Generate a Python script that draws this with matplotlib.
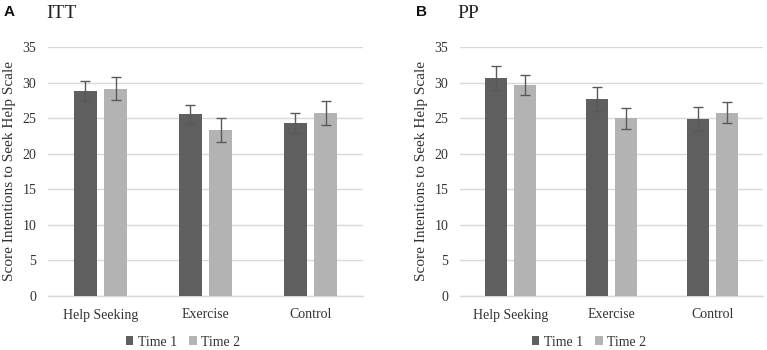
import matplotlib
matplotlib.use("Agg")
import matplotlib.pyplot as plt
import numpy as np

categories = ["Help Seeking", "Exercise", "Control"]
series_names = ["Time 1", "Time 2"]

itt_time1 = [28.9, 25.6, 24.4]
itt_time2 = [29.2, 23.4, 25.8]
itt_err1 = [1.4, 1.35, 1.4]
itt_err2 = [1.65, 1.7, 1.7]

pp_time1 = [30.7, 27.7, 24.9]
pp_time2 = [29.7, 25.0, 25.8]
pp_err1 = [1.7, 1.7, 1.65]
pp_err2 = [1.45, 1.45, 1.45]

yticks = [0, 5, 10, 15, 20, 25, 30, 35]

dark = "#5f5f5f"
light = "#b3b3b3"
grid = "#d9d9d9"
errc = "#595959"
textc = "#333333"
serif = ["Liberation Serif", "DejaVu Serif"]
sans = ["Liberation Sans", "DejaVu Sans"]

fig = plt.figure(figsize=(7.67, 3.5), dpi=100)

W, H = 767, 350

def make_panel(rect, t1, t2, e1, e2, letter, title, letter_x, title_x, ylab_x, leg_cx):
    ax = fig.add_axes(rect)
    x = np.arange(len(categories))
    w = 0.22
    off = 0.143
    b1 = ax.bar(x - off, t1, w, color=dark, label=series_names[0], zorder=3)
    b2 = ax.bar(x + off, t2, w, color=light, label=series_names[1], zorder=3)
    ax.errorbar(x - off, t1, yerr=e1, fmt="none", ecolor=errc, elinewidth=1.0,
                capsize=3.5, capthick=1.0, zorder=4)
    ax.errorbar(x + off, t2, yerr=e2, fmt="none", ecolor=errc, elinewidth=1.0,
                capsize=3.5, capthick=1.0, zorder=4)
    ax.set_xlim(-0.5, len(categories) - 0.5)
    ax.set_ylim(0, 35)
    ax.set_yticks(yticks)
    ax.set_yticklabels([str(v) for v in yticks], fontfamily=serif, fontsize=10)
    ax.set_xticks(x)
    ax.set_xticklabels(categories, fontfamily=serif, fontsize=10)
    ax.tick_params(axis="both", length=0, colors=textc)
    ax.tick_params(axis="y", pad=8.5)
    ax.tick_params(axis="x", pad=9)
    ax.grid(axis="y", color=grid, linewidth=1.0, zorder=0)
    ax.set_axisbelow(True)
    for s in ["left", "right", "top"]:
        ax.spines[s].set_visible(False)
    ax.spines["bottom"].set_color(grid)
    ax.spines["bottom"].set_linewidth(1.0)
    fig.text(letter_x / W, 1 - 12 / H, letter, fontfamily=sans, fontweight="bold",
             fontsize=11, ha="left", va="center", color="#111111")
    fig.text(title_x / W, 1 - 13 / H, title, fontfamily=serif, fontsize=14,
             ha="left", va="center", color="#222222")
    fig.text(ylab_x / W, 1 - 171 / H, "Score Intentions to Seek Help Scale",
             fontfamily=serif, fontsize=11, rotation=90, ha="center", va="center",
             color=textc)
    leg = fig.legend(handles=[b1, b2], labels=series_names, loc="center",
                     bbox_to_anchor=(leg_cx / W, 1 - 342 / H), ncol=2, frameon=False,
                     prop={"family": serif, "size": 10}, handlelength=0.55,
                     handleheight=0.55, handletextpad=0.3, columnspacing=0.9,
                     borderaxespad=0, borderpad=0)
    for t in leg.get_texts():
        t.set_color(textc)
    return ax

bottom = (H - 296) / H
height = (296 - 47.3) / H
make_panel([48 / W, bottom, 315 / W, height], itt_time1, itt_time2, itt_err1, itt_err2,
           "A", "ITT", 4, 46, 10, 183)
make_panel([460 / W, bottom, 303 / W, height], pp_time1, pp_time2, pp_err1, pp_err2,
           "B", "PP", 416, 457, 421, 589)

fig.savefig("out.png", dpi=100)
